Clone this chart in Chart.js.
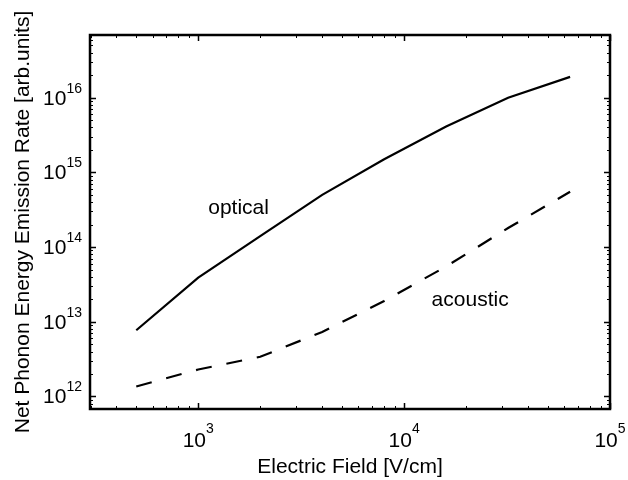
<!DOCTYPE html>
<html>
<head>
<meta charset="utf-8">
<script src="https://cdn.jsdelivr.net/npm/chart.js@4.4.1/dist/chart.umd.min.js"></script>
<style>
  html, body { margin: 0; padding: 0; background: #fff; }
</style>
</head>
<body>
<canvas id="chart" width="628" height="480"></canvas>
<script>
  // Electric field (V/cm)
  var fieldValues = [500, 1000, 2000, 4000, 8000, 16000, 32000, 64000];
  // net phonon energy emission rate, arb. units
  var opticalRate = [7.7e12, 3.9e13, 1.4e14, 5.0e14, 1.5e15, 4.1e15, 1.0e16, 1.9e16];
  var acousticRate = [1.36e12, 2.3e12, 3.4e12, 7.3e12, 1.9e13, 5.5e13, 1.8e14, 5.5e14];

  var xLimits = [298, 1e5];
  var yLimits = [6.8e11, 6.9e16];

  var xTitle = 'Electric Field [V/cm]';
  var yTitle = 'Net Phonon Energy Emission Rate [arb.units]';

  // text labels placed in data coordinates
  var notes = [
    { text: 'optical', x: 1118, y: 2.78e14 },
    { text: 'acoustic', x: 13600, y: 1.65e13 }
  ];

  const FONT = '"Liberation Sans", Arial, Helvetica, sans-serif';
  const BIG = 21, SUP = 14;

  function decadesIn(min, max) {
    var out = [];
    for (var d = Math.floor(Math.log10(min)); d <= Math.ceil(Math.log10(max)); d++) {
      var v = Math.pow(10, d);
      if (v >= min * 0.999 && v <= max * 1.001) out.push(d);
    }
    return out;
  }

  function minorIn(min, max) {
    var out = [];
    for (var d = Math.floor(Math.log10(min)); d <= Math.ceil(Math.log10(max)); d++) {
      for (var k = 2; k <= 9; k++) {
        var v = k * Math.pow(10, d);
        if (v > min && v < max) out.push(v);
      }
    }
    return out;
  }

  // matlab style box, inward ticks, 10^n labels
  const matlabAxes = {
    id: 'matlabAxes',
    afterDraw(chart) {
      const ctx = chart.ctx, a = chart.chartArea;
      const xs = chart.scales.x, ys = chart.scales.y;
      ctx.save();
      ctx.strokeStyle = '#000';
      ctx.fillStyle = '#000';

      // minor ticks
      ctx.lineWidth = 1;
      ctx.beginPath();
      minorIn(xs.min, xs.max).forEach(v => {
        const px = Math.round(xs.getPixelForValue(v)) + 0.5;
        ctx.moveTo(px, a.bottom); ctx.lineTo(px, a.bottom - 3);
        ctx.moveTo(px, a.top); ctx.lineTo(px, a.top + 3);
      });
      minorIn(ys.min, ys.max).forEach(v => {
        const py = Math.round(ys.getPixelForValue(v)) + 0.5;
        ctx.moveTo(a.left, py); ctx.lineTo(a.left + 3, py);
        ctx.moveTo(a.right, py); ctx.lineTo(a.right - 3, py);
      });
      ctx.stroke();

      // major ticks
      ctx.lineWidth = 1.5;
      ctx.beginPath();
      decadesIn(xs.min, xs.max).forEach(d => {
        const px = Math.round(xs.getPixelForValue(Math.pow(10, d))) + 0.5;
        ctx.moveTo(px, a.bottom); ctx.lineTo(px, a.bottom - 6);
        ctx.moveTo(px, a.top); ctx.lineTo(px, a.top + 6);
      });
      decadesIn(ys.min, ys.max).forEach(d => {
        const py = Math.round(ys.getPixelForValue(Math.pow(10, d))) + 0.5;
        ctx.moveTo(a.left, py); ctx.lineTo(a.left + 6, py);
        ctx.moveTo(a.right, py); ctx.lineTo(a.right - 6, py);
      });
      ctx.stroke();

      // box
      ctx.lineWidth = 2.5;
      ctx.strokeRect(a.left, a.top, a.right - a.left, a.bottom - a.top);

      // tick labels
      ctx.textBaseline = 'alphabetic';
      ctx.textAlign = 'left';
      decadesIn(xs.min, xs.max).forEach(d => {
        const px = xs.getPixelForValue(Math.pow(10, d));
        ctx.font = BIG + 'px ' + FONT;
        const w1 = ctx.measureText('10').width;
        ctx.font = SUP + 'px ' + FONT;
        const w2 = ctx.measureText(String(d)).width;
        const x0 = px - (w1 + w2) / 2;
        ctx.font = BIG + 'px ' + FONT;
        ctx.fillText('10', x0, a.bottom + 38);
        ctx.font = SUP + 'px ' + FONT;
        ctx.fillText(String(d), x0 + w1, a.bottom + 24);
      });
      decadesIn(ys.min, ys.max).forEach(d => {
        const py = ys.getPixelForValue(Math.pow(10, d));
        ctx.font = BIG + 'px ' + FONT;
        const w1 = ctx.measureText('10').width;
        ctx.font = SUP + 'px ' + FONT;
        const w2 = ctx.measureText(String(d)).width;
        const xr = a.left - 8;
        ctx.font = BIG + 'px ' + FONT;
        ctx.fillText('10', xr - w2 - w1, py + 7);
        ctx.font = SUP + 'px ' + FONT;
        ctx.fillText(String(d), xr - w2, py - 5);
      });

      // axis titles
      ctx.font = BIG + 'px ' + FONT;
      ctx.textAlign = 'center';
      ctx.fillText(xTitle, (a.left + a.right) / 2, 473);
      ctx.save();
      ctx.translate(23, (a.top + a.bottom) / 2);
      ctx.rotate(-Math.PI / 2);
      ctx.textBaseline = 'middle';
      ctx.fillText(yTitle, 0, 0);
      ctx.restore();

      // curve labels
      ctx.textAlign = 'left';
      notes.forEach(n => {
        ctx.fillText(n.text, xs.getPixelForValue(n.x), ys.getPixelForValue(n.y));
      });
      ctx.restore();
    }
  };

  new Chart(document.getElementById('chart'), {
    type: 'line',
    data: {
      datasets: [{
        label: 'optical',
        data: fieldValues.map((x, i) => ({ x: x, y: opticalRate[i] })),
        borderColor: '#000',
        borderWidth: 2.2,
        pointRadius: 0,
        tension: 0,
        fill: false
      }, {
        label: 'acoustic',
        data: fieldValues.map((x, i) => ({ x: x, y: acousticRate[i] })),
        borderColor: '#000',
        borderWidth: 2.2,
        borderDash: [16, 15],
        pointRadius: 0,
        tension: 0,
        fill: false
      }]
    },
    options: {
      responsive: false,
      animation: false,
      layout: { padding: { left: 0, top: 35, right: 18, bottom: 0 } },
      plugins: { legend: { display: false }, tooltip: { enabled: false } },
      scales: {
        x: {
          type: 'logarithmic',
          min: xLimits[0],
          max: xLimits[1],
          grid: { display: false },
          border: { display: false },
          ticks: { display: false },
          afterFit: function(scale) { scale.height = 71; }
        },
        y: {
          type: 'logarithmic',
          min: yLimits[0],
          max: yLimits[1],
          grid: { display: false },
          border: { display: false },
          ticks: { display: false },
          afterFit: function(scale) { scale.width = 90; }
        }
      }
    },
    plugins: [matlabAxes]
  });
</script>
</body>
</html>
